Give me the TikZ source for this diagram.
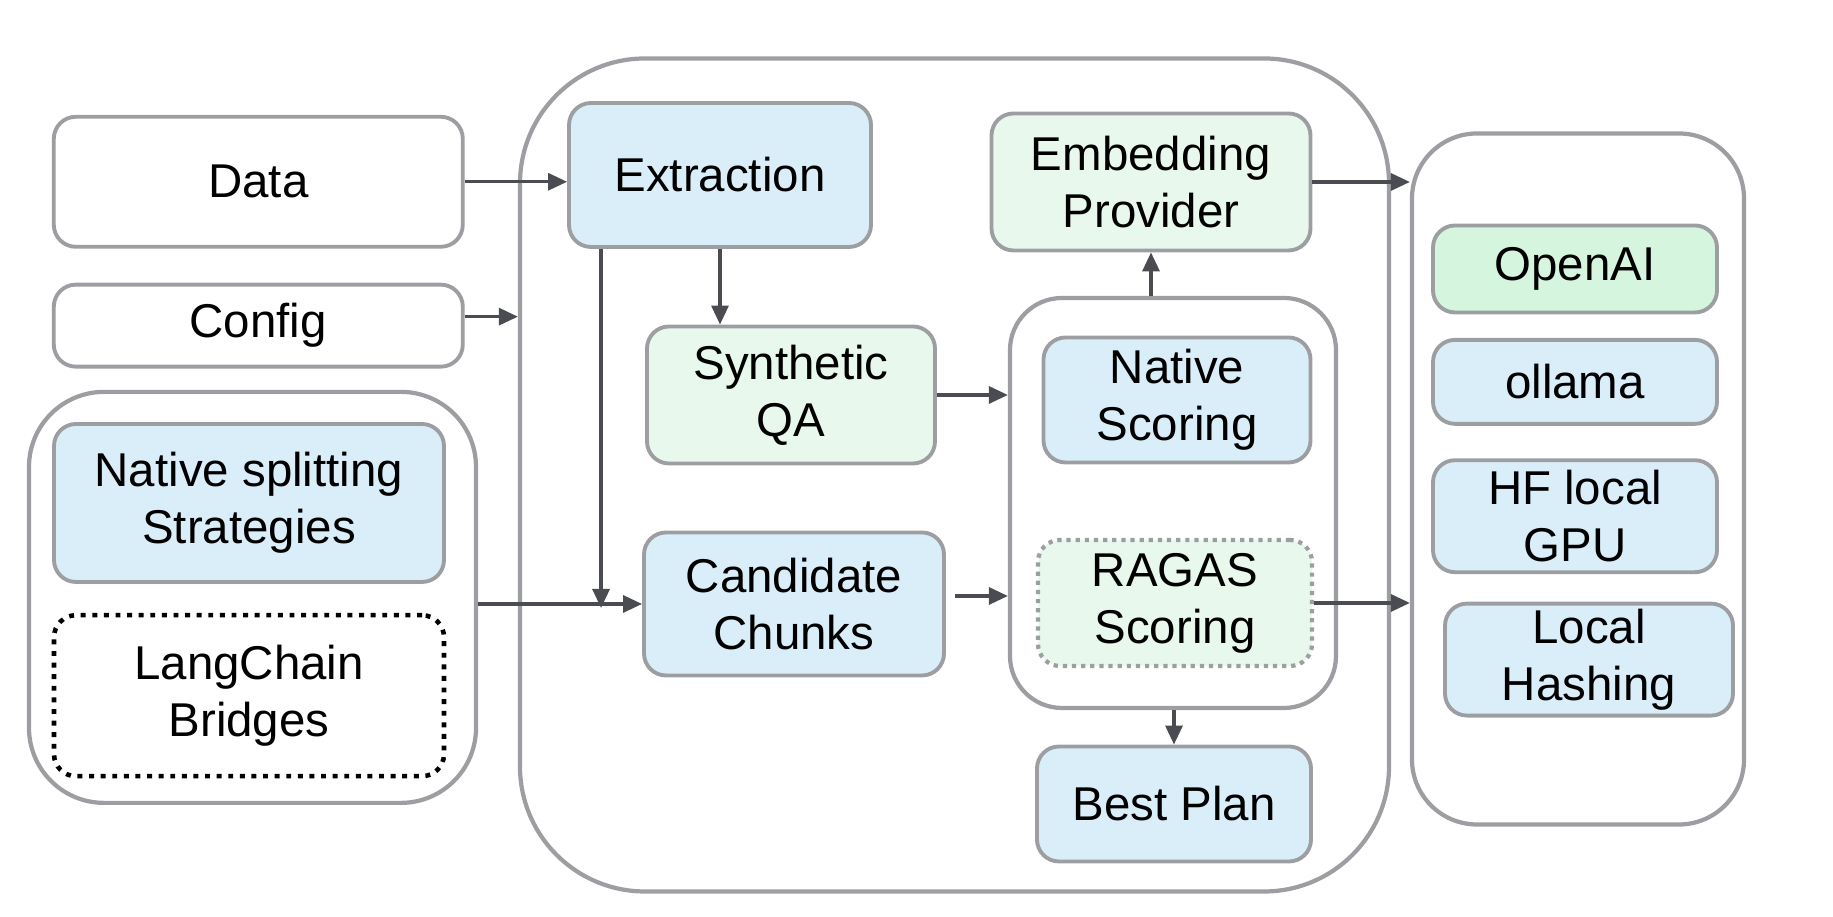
\documentclass[tikz,border=0pt]{standalone}
\usepackage{fontspec}
\setmainfont{Liberation Sans}
\usepackage{xcolor}
\usepackage{tikz}
\usetikzlibrary{arrows.meta,positioning,calc}
\definecolor{edge}{HTML}{9D9EA2}
\definecolor{wire}{HTML}{4B4C52}
\definecolor{bluL}{HTML}{DAEEF9}
\definecolor{grnL}{HTML}{E8F8ED}
\definecolor{grnM}{HTML}{D6F5DE}
\tikzset{
  box/.style   ={draw=edge, rounded corners=2.2mm, align=center, inner sep=0pt,
                 font=\fontsize{13.5}{16.2}\selectfont, line width=1.1pt, text=black},
  bb/.style    ={box, fill=bluL},
  gg/.style    ={box, fill=grnL},
  oo/.style    ={box, fill=grnM},
  ww/.style    ={box, fill=white},
  dotblk/.style={draw=black, line width=1.3pt, dash pattern=on 1.4pt off 1.9pt},
  dotgry/.style={draw=edge, line width=1.2pt, dash pattern=on 1.2pt off 1.4pt},
  grp/.style   ={draw=edge, rounded corners=#1, line width=1.2pt, inner sep=0pt},
  flow/.style  ={-{Triangle[length=1.9mm,width=1.7mm]}, line width=.9pt, draw=wire},
}
\begin{document}
\begin{tikzpicture}[x=1mm,y=1mm,node distance=3mm]
  \useasboundingbox (0,0) rectangle (183.3,91.65);
  % frames
  \node[grp=12.5mm, minimum width=86.9mm, minimum height=83.3mm](core) at (95.45,44.15){};
  \node[grp=7.5mm, minimum width=44.7mm, minimum height=41.1mm](split) at (25.25,31.91){};
  \node[grp=5.2mm, minimum width=32.6mm, minimum height=41mm](score) at (117.3,41.35){};
  \node[grp=6.5mm, minimum width=33.2mm, minimum height=69.1mm](prov) at (157.8,43.75){};
  % inputs
  \node[ww, minimum width=40.9mm, minimum height=13mm](data) at (25.83,73.47){Data};
  \node[ww, below=3.4mm of data, minimum width=40.9mm, minimum height=8.2mm](config){Config};
  \node[bb, minimum width=39mm, minimum height=15.8mm](native) at (24.9,41.35){Native splitting\\Strategies};
  \node[ww, dotblk, below=2.9mm of native, minimum width=39mm, minimum height=16.1mm](lang){LangChain\\Bridges};
  % pipeline
  \node[bb, minimum width=30.2mm, minimum height=14.4mm](extract) at (72.0,74.15){Extraction};
  \node[gg, minimum width=28.8mm, minimum height=13.7mm](synth) at (79.1,52.15){Synthetic\\QA};
  \node[bb, minimum width=30mm, minimum height=14.3mm](cand) at (79.4,31.25){Candidate\\Chunks};
  \node[gg, minimum width=31.9mm, minimum height=13.7mm](embed) at (115.1,73.45){Embedding\\Provider};
  \node[bb, minimum width=26.7mm, minimum height=12.5mm](nscore) at (117.7,51.65){Native\\Scoring};
  \node[gg, dotgry, minimum width=27.4mm, minimum height=12.6mm](ragas) at (117.5,31.35){RAGAS\\Scoring};
  \node[bb, minimum width=27.4mm, minimum height=11.5mm](best) at (117.4,11.25){Best Plan};
  % providers
  \node[oo, minimum width=28.4mm, minimum height=8.7mm](openai) at (157.5,64.75){OpenAI};
  \node[bb, below=2.35mm of openai, minimum width=28.4mm, minimum height=8.4mm](ollama){ollama};
  \node[bb, below=3.25mm of ollama, minimum width=28.4mm, minimum height=11.2mm](hf){HF local\\GPU};
  \node[bb, below=2.75mm of hf, xshift=1.4mm, minimum width=28.8mm, minimum height=11.2mm](hash){Local\\Hashing};
  % connectors
  \draw[flow](data.east) -- (data.east -| extract.west);
  \draw[flow]([yshift=.9mm]config.east) -- ([yshift=.9mm]config.east -| core.west);
  \draw[flow](split.east |- cand.west) -- (cand.west);
  \draw[flow]([xshift=3.4mm]extract.south west) -- ([xshift=3.4mm,yshift=-.4mm]extract.south west |- cand.west);
  \draw[flow](extract.south) -- (extract.south |- synth.north);
  \draw[flow](synth.east) -- (synth.east -| score.west);
  \draw[flow]([xshift=.9mm,yshift=.8mm]cand.east) -- ([yshift=.8mm]cand.east -| score.west);
  \draw[flow](embed.south |- score.north) -- (embed.south);
  \draw[flow](embed.east) -- (embed.east -| prov.west);
  \draw[flow](ragas.east) -- (ragas.east -| prov.west);
  \draw[flow](best.north |- score.south) -- (best.north);
\end{tikzpicture}
\end{document}
